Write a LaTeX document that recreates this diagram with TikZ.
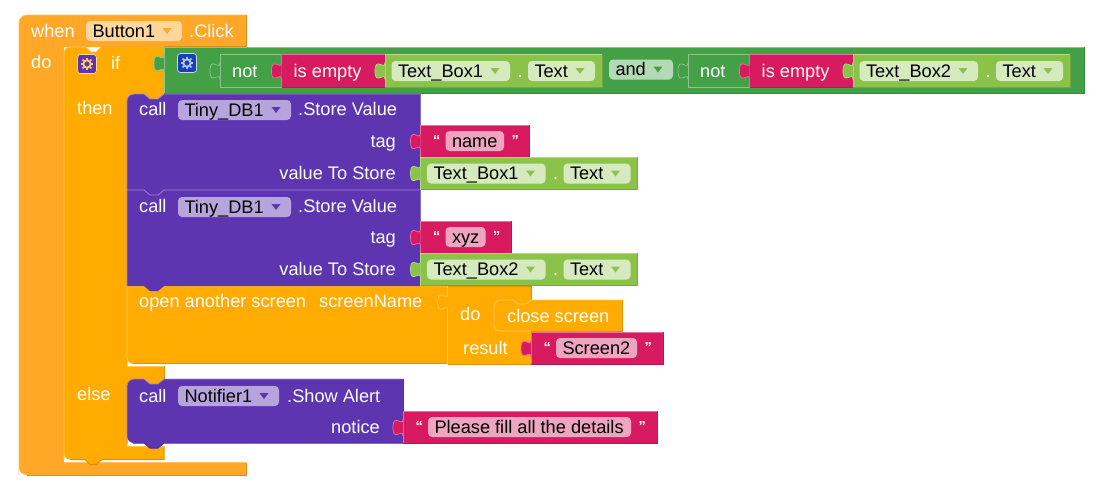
\documentclass[tikz,border=0pt]{standalone}
\usepackage{fontspec}
\setmainfont{Liberation Sans}
\usepackage{tikz}
\usepackage{xcolor}
\usetikzlibrary{arrows.meta,positioning,calc}
\definecolor{whenOrange}{HTML}{FFA726}
\definecolor{whenOrangeLt}{HTML}{FFC06E}
\definecolor{whenOrangeDk}{HTML}{DB8E20}
\definecolor{ctrlOrange}{HTML}{FFAB00}
\definecolor{ctrlOrangeLt}{HTML}{FFCB5E}
\definecolor{ctrlOrangeDk}{HTML}{DB9300}
\definecolor{callPurple}{HTML}{5E35B1}
\definecolor{callPurpleLt}{HTML}{9B84CF}
\definecolor{callPurpleDk}{HTML}{4F2D96}
\definecolor{textPink}{HTML}{D81B60}
\definecolor{textPinkLt}{HTML}{E8709C}
\definecolor{textPinkDk}{HTML}{B81752}
\definecolor{compGreen}{HTML}{8BC34A}
\definecolor{compGreenLt}{HTML}{B4D98A}
\definecolor{compGreenDk}{HTML}{76A63F}
\definecolor{logicGreen}{HTML}{43A047}
\definecolor{logicGreenLt}{HTML}{8AC58D}
\definecolor{logicGreenDk}{HTML}{39883C}
\definecolor{gearBlue}{HTML}{1D3FB5}
\definecolor{gearBlueLt}{HTML}{AFC6F0}
% value block: left, top, right, bottom, colour
\newcommand{\valuebox}[5]{%
  \fill[#5] (#1,#2) rectangle (#3,#4);
  \draw[#5Lt, line width=0.8pt] (#1,#4) -- (#1,#2) -- (#3,#2);
  \draw[#5Dk, line width=1pt] (#1,#4) -- (#3,#4) -- (#3,#2);
}
% plug at the left of a value block: x, top, colour
\newcommand{\puzzletab}[3]{%
  \filldraw[fill=#3, draw=#3Lt, line width=0.7pt]
    (#1,#2) .. controls (#1,#2+9) and (#1-10,#2-7) .. (#1-10,#2+8.5)
    .. controls (#1-10,#2+24) and (#1,#2+8) .. (#1,#2+17);
}
% dropdown: name, left, right, top, fill, arrow colour, text
\newcommand{\dropfield}[7]{%
  \fill[#5, rounded corners=4pt] (#2,#4) rectangle (#3,#4+20);
  \fill[#6] (#3-19.5,#4+7) -- (#3-10.5,#4+7) -- (#3-15,#4+13) -- cycle;
  \node[fieldtext] (#1) at (#2+6.3,#4+16.3) {#7};
}
% component getter: name, left, top
\newcommand{\compblock}[4]{%
  \valuebox{#2}{#3}{#2+217}{#3+32.5}{compGreen}
  \dropfield{#1}{#2+6.5}{#2+125}{#3+6.5}{compField}{compGreen}{#4}
  \node[lbl] (#1dot) at (#2+132.5,#3+22.6) {.};
  \dropfield{#1prop}{#2+143}{#2+210}{#3+6.5}{compField}{compGreen}{Text}
  \puzzletab{#2}{#3+8}{compGreen}
}
% text block: name, left, top, right, field left, field right, text
\newcommand{\textblock}[7]{%
  \valuebox{#2}{#3}{#4}{#3+32}{textPink}
  \fill[textField, rounded corners=4pt] (#5,#3+6) rectangle (#6,#3+26);
  \node[fieldtext] (#1) at (#5+6.3,#3+22.3) {#7};
  \node[quotemark] (#1open) at (#5-12.5,#3+20) {“};
  \node[quotemark] (#1close) at (#6+7.5,#3+20) {”};
  \puzzletab{#2}{#3+8}{textPink}
}
% not + is empty pair: name, left, top
\newcommand{\notempty}[2]{%
  \fill[logicGreen] (#2,54.5) rectangle (#2+61.5,87);
  \puzzletab{#2}{62.5}{logicGreen}
  \draw[logicGreenLt, line width=0.8pt] (#2+61.5,54.5) -- (#2,54.5) -- (#2,87) -- (#2+61.5,87);
  \node[lbl] (#1not) at (#2+12,77) {not};
  \valuebox{#2+61.5}{54.5}{#2+166}{87}{textPink}
  \puzzletab{#2+61.5}{62.5}{textPink}
  \node[lbl] (#1empty) at (#2+73.5,77) {is empty};
}
% gear icon: x, y, box colour, gear colour
\newcommand{\gearicon}[4]{%
  \begin{scope}[shift={(#1,#2)}]
    \filldraw[fill=#3, draw=#4!70!white, line width=0.7pt, rounded corners=3pt] (-9.5,-9.5) rectangle (9.5,9.5);
    \draw[#4, line width=1.9pt] (0,0) circle [radius=3.7];
    \foreach \ang in {0,45,...,315}
      \draw[#4, line width=1.7pt] (\ang:4.4) -- (\ang:6.3);
  \end{scope}
}
\newcommand{\blockfont}{\fontsize{18.2}{20}\selectfont}
\begin{document}
\begin{tikzpicture}[
    x=1pt, y=-1pt,
    lbl/.style={text=white, anchor=base west, inner sep=0pt, font=\blockfont},
    lblr/.style={lbl, anchor=base east},
    fieldtext/.style={text=black, anchor=base west, inner sep=0pt, font=\blockfont},
    quotemark/.style={text=white, anchor=base west, inner sep=0pt, font=\fontsize{14.5}{16}\selectfont\bfseries}
  ]
  \colorlet{compField}{compGreen!35!white}
  \colorlet{textField}{textPink!40!white}
  \colorlet{callField}{callPurple!45!white}
  \colorlet{eventField}{whenOrange!45!white}
  \colorlet{andField}{logicGreen!40!white}
  \useasboundingbox (0,0) rectangle (1116,488);

  % Event block
  \fill[whenOrange] (246.5,15) [rounded corners=8pt] -- (19,15) -- (19,475) [sharp corners]
    -- (246.5,475) -- (246.5,462.5) -- (64,462.5) -- (64,47) -- (246.5,47) -- cycle;
  \draw[whenOrangeLt, line width=0.8pt] (246.5,15) [rounded corners=8pt] -- (19,15) -- (19,475);
  \draw[whenOrangeLt, line width=0.8pt] (64,462.5) -- (246.5,462.5);
  \draw[whenOrangeDk, line width=1pt] (246.5,15) -- (246.5,46.5) -- (164,46.5);
  \draw[whenOrangeDk, line width=1pt] (27,475) -- (246.5,475) -- (246.5,462.5);
  \node[lbl] (whenlbl) at (31,37) {when};
  \dropfield{buttonfield}{86}{182}{21}{eventField}{whenOrange}{Button1}
  \node[lbl] (clicklbl) at (189,37) {.Click};
  \node[lbl] (dolbl) at (31,68) {do};

  % If block
  \fill[ctrlOrange] (164,47) -- (101,47) -- (96,52) -- (91,52) -- (86,47) [rounded corners=6pt]
    -- (64,47) -- (64,459.5) [sharp corners] -- (85,459.5) -- (90,464.5) -- (96,464.5) -- (102,459.5)
    -- (164,459.5) -- (164,446) -- (127,446) -- (127,384) -- (164,384) -- (164,366)
    -- (127,366) -- (127,100) -- (164,100) -- cycle;
  \draw[ctrlOrangeLt, line width=0.8pt] (101,47) -- (96,52) -- (91,52) -- (86,47) [rounded corners=6pt]
    -- (64,47) -- (64,459.5);
  \draw[ctrlOrangeDk, line width=1pt] (70,459.5) -- (85,459.5) -- (90,464.5) -- (96,464.5) -- (102,459.5)
    -- (164,459.5) -- (164,446);
  \draw[ctrlOrangeLt, line width=0.8pt] (127,100) -- (127,366) -- (164,366);
  \draw[ctrlOrangeLt, line width=0.8pt] (127,384) -- (127,446) -- (164,446);
  \draw[ctrlOrangeDk, line width=1pt] (164,366) -- (164,384);
  \gearicon{87}{64}{callPurple}{ctrlOrangeLt}
  \node[lbl] (iflbl) at (111,69) {if};
  \node[lbl] (thenlbl) at (77,114) {then};
  \node[lbl] (elselbl) at (77,400) {else};

  % Condition
  \valuebox{164}{47}{1084.5}{93.5}{logicGreen}
  \puzzletab{164}{55}{logicGreen}
  \gearicon{187}{63}{gearBlue}{gearBlueLt}
  \notempty{first}{220}
  \compblock{boxone}{385}{54.5}{Text\_Box1}
  \dropfield{andfield}{609}{673}{59.5}{andField}{logicGreen}{and}
  \notempty{second}{688}
  \compblock{boxtwo}{853}{54.5}{Text\_Box2}

  % Open another screen
  \fill[ctrlOrange] (127,280) -- (447.5,286) -- (447.5,363.5) [rounded corners=6pt] -- (127,363.5) [sharp corners] -- cycle;
  \draw[ctrlOrangeLt, line width=0.8pt] (447.5,286) -- (127,286) [rounded corners=6pt] -- (127,363.5) [sharp corners] -- (136,363.5);
  \draw[ctrlOrangeDk, line width=1pt] (133,363.5) -- (447.5,363.5);
  \fill[ctrlOrange] (448,286) rectangle (531,364);
  \draw[ctrlOrangeDk, line width=1pt] (448,364) -- (531,364);
  \draw[ctrlOrangeDk, line width=1pt] (447.5,286) -- (531,286) -- (531,300);
  \draw[ctrlOrangeLt, line width=0.8pt] (447.8,286) -- (447.8,364);
  \puzzletab{447.8}{293.5}{ctrlOrange}
  \node[lbl] (openlbl) at (139,307) {open another screen};
  \node[lbl] (screennamelbl) at (319,307) {screenName};
  \node[lbl] (dolbltwo) at (460,320) {do};
  \node[lbl] (resultlbl) at (463,354) {result};

  % Close screen
  \fill[ctrlOrange] (531,300) rectangle (622,331);
  \draw[ctrlOrangeLt, line width=0.8pt] (531,331) [rounded corners=6pt] -- (494,331) -- (494,300) [sharp corners]
    -- (513,300) -- (518,304) -- (526,304) -- (531,300) -- (622,300);
  \draw[ctrlOrangeDk, line width=1pt] (531,331) -- (622,331) -- (622,300);
  \node[lbl] (closelbl) at (507,322) {close screen};
  \textblock{screenfield}{531}{332}{663}{556}{637}{Screen2}

  % Store value calls
  \fill[callPurple] (420,94) -- (164,94) -- (158,99) -- (150,99) -- (144,94) [rounded corners=7pt] -- (127,94) [sharp corners]
    -- (127,286) -- (144,286) -- (150,291) -- (158,291) -- (164,286) -- (420,286) -- cycle;
  \draw[callPurpleLt, line width=0.8pt] (420,94) -- (164,94) -- (158,99) -- (150,99) -- (144,94) [rounded corners=7pt] -- (127,94) [sharp corners] -- (127,286);
  \draw[callPurpleLt, line width=0.8pt] (127,190) -- (144,190) -- (150,195) -- (158,195) -- (164,190) -- (420,190);
  \draw[callPurpleDk, line width=1pt] (420,94) -- (420,190) -- (420,286);
  \node[lbl] (calllblone) at (139,115) {call};
  \dropfield{dbfieldone}{178}{291}{100}{callField}{callPurple}{Tiny\_DB1}
  \node[lbl] (storelblone) at (298,115) {.Store Value};
  \node[lblr] (taglblone) at (396,147) {tag};
  \node[lblr] (valuelblone) at (396,179) {value To Store};
  \node[lbl] (calllbltwo) at (139,212) {call};
  \dropfield{dbfieldtwo}{178}{291}{197}{callField}{callPurple}{Tiny\_DB1}
  \node[lbl] (storelbltwo) at (298,212) {.Store Value};
  \node[lblr] (taglbltwo) at (396,243.5) {tag};
  \node[lblr] (valuelbltwo) at (396,275) {value To Store};
  \textblock{namefield}{420.5}{125}{529.5}{445.5}{504}{name}
  \compblock{valueone}{420.5}{157}{Text\_Box1}
  \textblock{xyzfield}{420.5}{221}{511}{445.5}{485.5}{xyz}
  \compblock{valuetwo}{420.5}{253}{Text\_Box2}

  % Show alert call
  \fill[callPurple] (403,379) -- (164,379) -- (158,384) -- (150,384) -- (144,379) [rounded corners=7pt] -- (127,379)
    -- (127,443) [sharp corners] -- (144,443) -- (150,448) -- (158,448) -- (164,443) -- (403,443) -- cycle;
  \draw[callPurpleLt, line width=0.8pt] (403,379) -- (164,379) -- (158,384) -- (150,384) -- (144,379) [rounded corners=7pt] -- (127,379) -- (127,443);
  \draw[callPurpleDk, line width=1pt] (403,379) -- (403,443);
  \draw[callPurpleDk, line width=1pt] (133,443) -- (144,443) -- (150,448) -- (158,448) -- (164,443) -- (403,443);
  \node[lbl] (calllblthree) at (139,402) {call};
  \dropfield{notifierfield}{178}{279}{386}{callField}{callPurple}{Notifier1}
  \node[lbl] (showlbl) at (287,402) {.Show Alert};
  \node[lblr] (noticelbl) at (380,433) {notice};
  \textblock{noticefield}{403}{411}{657}{428}{631}{Please fill all the details}
\end{tikzpicture}
\end{document}
